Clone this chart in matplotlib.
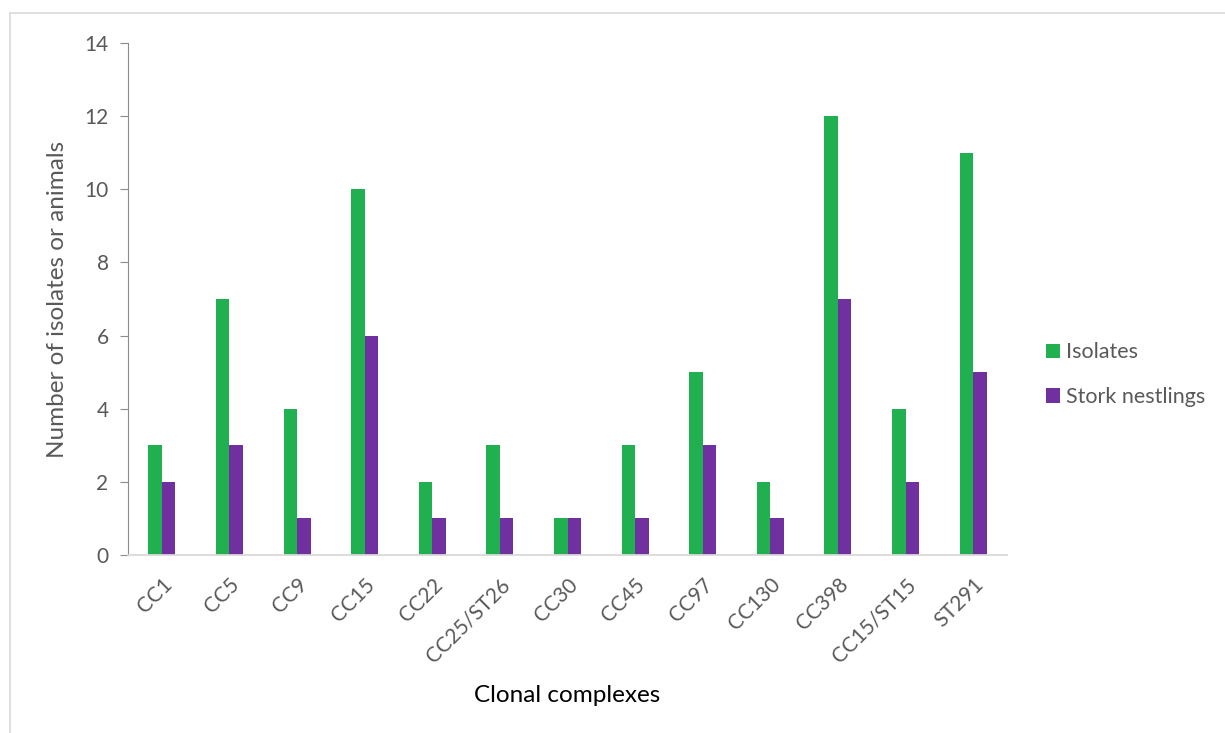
import matplotlib
matplotlib.use("Agg")
import matplotlib.pyplot as plt
import numpy as np
from matplotlib.patches import Rectangle

categories = ["CC1", "CC5", "CC9", "CC15", "CC22", "CC25/ST26", "CC30", "CC45",
              "CC97", "CC130", "CC398", "CC15/ST15", "ST291"]
isolates = [3, 7, 4, 10, 2, 3, 1, 3, 5, 2, 12, 4, 11]
stork_nestlings = [2, 3, 1, 6, 1, 1, 1, 1, 3, 1, 7, 2, 5]
series_names = ["Isolates", "Stork nestlings"]
y_ticks = [0, 2, 4, 6, 8, 10, 12, 14]

GREEN = "#20B04F"
PURPLE = "#7030A0"
TEXT = "#595959"

plt.rcParams["font.family"] = ["Lato", "DejaVu Sans"]

fig = plt.figure(figsize=(12.25, 7.33), dpi=100)
fig.patches.append(Rectangle((10 / 1225, -0.05), 1.2, 1 - 13 / 733 + 0.05,
                             transform=fig.transFigure, fill=False,
                             edgecolor="#D9D9D9", linewidth=1.2))

ax = fig.add_axes([128 / 1225, 1 - 555 / 733, (1007 - 128) / 1225, (555 - 43) / 733])
x = np.arange(len(categories))
w = 0.2
ax.bar(x - w / 2, isolates, w, color=GREEN, label=series_names[0])
ax.bar(x + w / 2, stork_nestlings, w, color=PURPLE, label=series_names[1])

ax.set_xlim(-0.5, len(categories) - 0.5)
ax.set_ylim(0, 14)
ax.set_yticks(y_ticks)
ax.set_xticks(x)
ax.set_xticklabels(categories, rotation=45, ha="right", rotation_mode="anchor")

for s in ["top", "right"]:
    ax.spines[s].set_visible(False)
ax.spines["left"].set_color("#8C8C8C")
ax.spines["bottom"].set_color("#D9D9D9")
ax.spines["bottom"].set_linewidth(1.3)
ax.tick_params(axis="y", colors=TEXT, labelsize=15, length=6, color="#8C8C8C", pad=8)
ax.tick_params(axis="x", colors=TEXT, labelsize=15, length=0, pad=14)

ax.set_xlabel("Clonal complexes", fontsize=17.5, color="black", labelpad=14)
ax.set_ylabel("Number of isolates or animals", fontsize=17.5, color=TEXT, labelpad=12)

ax.legend(loc="center left", bbox_to_anchor=(1.022, 0.352), frameon=False,
          fontsize=15.5, labelcolor=TEXT, handlelength=0.65, handleheight=0.65,
          handletextpad=0.3, labelspacing=1.15)

fig.savefig("out.png", dpi=100)
